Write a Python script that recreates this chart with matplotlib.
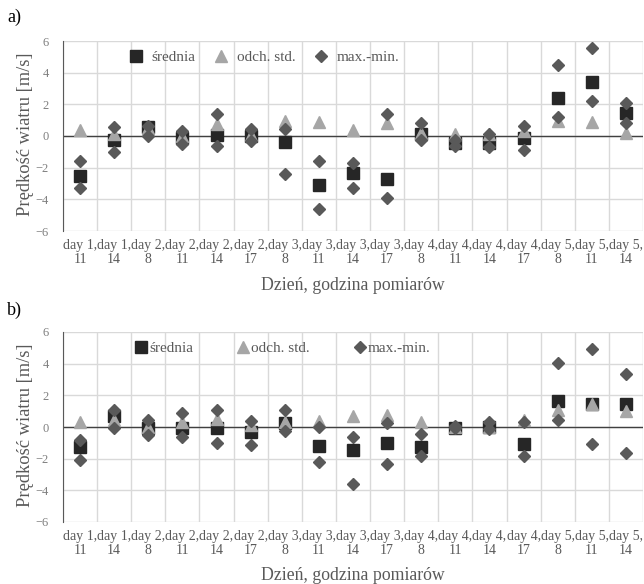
import numpy as np
import matplotlib
matplotlib.use('Agg')
import matplotlib.pyplot as plt

plt.rcParams['font.family'] = ['Liberation Serif', 'DejaVu Serif']

# categories (day, hour)
days = [1, 1, 2, 2, 2, 2, 3, 3, 3, 3, 4, 4, 4, 4, 5, 5, 5]
hours = [11, 14, 8, 11, 14, 17, 8, 11, 14, 17, 8, 11, 14, 17, 8, 11, 14]
labels = [f'day {d},\n{h}' for d, h in zip(days, hours)]

# panel a)
mean_a = [-2.5, -0.25, 0.55, -0.15, 0.08, 0.0, -0.35, -3.1, -2.35, -2.7, 0.15, -0.45, -0.45, -0.15, 2.4, 3.4, 1.45]
std_a = [0.35, 0.1, 0.5, 0.0, 0.75, 0.05, 0.95, 0.9, 0.4, 0.85, 0.2, 0.15, 0.15, 0.3, 0.95, 0.9, 0.2]
max_a = [-1.58, 0.55, 0.65, 0.3, 1.4, 0.45, 0.45, -1.58, -1.7, 1.42, 0.8, -0.25, 0.1, 0.65, 4.48, 5.54, 2.1]
min_a = [-3.3, -1.0, -0.03, -0.5, -0.6, -0.33, -2.4, -4.6, -3.28, -3.93, -0.27, -0.6, -0.72, -0.9, 1.2, 2.2, 0.85]

# panel b)
mean_b = [-1.28, 0.72, -0.04, -0.04, -0.04, -0.32, 0.25, -1.2, -1.43, -1.01, -1.24, -0.04, 0.02, -1.05, 1.64, 1.47, 1.43]
std_b = [0.32, 0.42, 0.0, 0.32, 0.53, 0.1, 0.32, 0.38, 0.67, 0.74, 0.34, 0.0, 0.0, 0.42, 1.05, 1.47, 1.01]
max_b = [-0.8, 1.05, 0.42, 0.88, 1.05, 0.38, 1.05, 0.0, -0.63, 0.27, -0.46, 0.05, 0.3, 0.3, 4.06, 4.9, 3.33]
min_b = [-2.06, -0.04, -0.53, -0.63, -1.0, -1.16, -0.25, -2.21, -3.58, -2.32, -1.83, -0.05, -0.1, -1.85, 0.42, -1.05, -1.64]

W, H = 644, 584
fig = plt.figure(figsize=(W / 100, H / 100), dpi=100)

c_mean = '#262626'
c_std = '#a6a6a6'
c_mm = '#595959'
c_txt = '#595959'


def panel(top, bottom, mean, std, mx, mn, leg_x, textpad, colspace):
    ax = fig.add_axes([63 / W, 1 - bottom / H, 580 / W, (bottom - top) / H])
    x = np.arange(len(labels))
    ax.set_xlim(-0.5, len(labels) - 0.5)
    ax.set_ylim(-6, 6)
    ax.set_yticks(np.arange(-6, 7, 2))
    ax.set_xticks(x)
    ax.set_xticklabels(labels, fontsize=10, color=c_txt, linespacing=1.05)
    ax.set_xticks(np.arange(-0.5, len(labels), 1), minor=True)
    ax.tick_params(axis='both', which='both', length=0)
    ax.tick_params(axis='y', labelsize=9, labelcolor='#7f7f7f', pad=10)
    ax.tick_params(axis='x', pad=6)
    ax.grid(True, which='minor', axis='x', color='#d9d9d9', lw=1)
    ax.grid(True, which='major', axis='y', color='#d9d9d9', lw=1)
    ax.set_axisbelow(True)
    for s in ['top', 'right', 'bottom']:
        ax.spines[s].set_visible(False)
    ax.spines['left'].set_color('#595959')
    ax.axhline(0, color='#404040', lw=1, zorder=1.5)

    ax.plot(x, mean, 's', color=c_mean, ms=8, label='średnia', zorder=3)
    ax.plot(x, std, '^', color=c_std, ms=8.5, label='odch. std.', zorder=4)
    ax.plot(x, mx, 'D', color=c_mm, ms=6.5, label='max.-min.', zorder=5)
    ax.plot(x, mn, 'D', color=c_mm, ms=6.5, zorder=5)

    ax.legend(loc='center left', bbox_to_anchor=(leg_x, 0.915), ncol=3, frameon=False,
              fontsize=11, labelcolor=c_txt, handlelength=1.0, handletextpad=textpad,
              columnspacing=colspace, borderpad=0, borderaxespad=0)
    return ax


ax_a = panel(41, 231, mean_a, std_a, max_a, min_a, 0.113, 0.5, 1.2)
ax_b = panel(332, 522, mean_b, std_b, max_b, min_b, 0.122, 0.0, 2.8)

for ylab in [134, 425]:
    fig.text(26 / W, 1 - ylab / H, 'Prędkość wiatru [m/s]', rotation=90, ha='center', va='center',
             fontsize=13.3, color=c_txt)
for xlab in [285, 576]:
    fig.text(353 / W, 1 - xlab / H, 'Dzień, godzina pomiarów', ha='center', va='center',
             fontsize=12.8, color=c_txt)

fig.text(7 / W, 1 - 17 / H, 'a)', ha='left', va='center', fontsize=13, color='black')
fig.text(7 / W, 1 - 310 / H, 'b)', ha='left', va='center', fontsize=13, color='black')

fig.savefig('out.png', dpi=100)
